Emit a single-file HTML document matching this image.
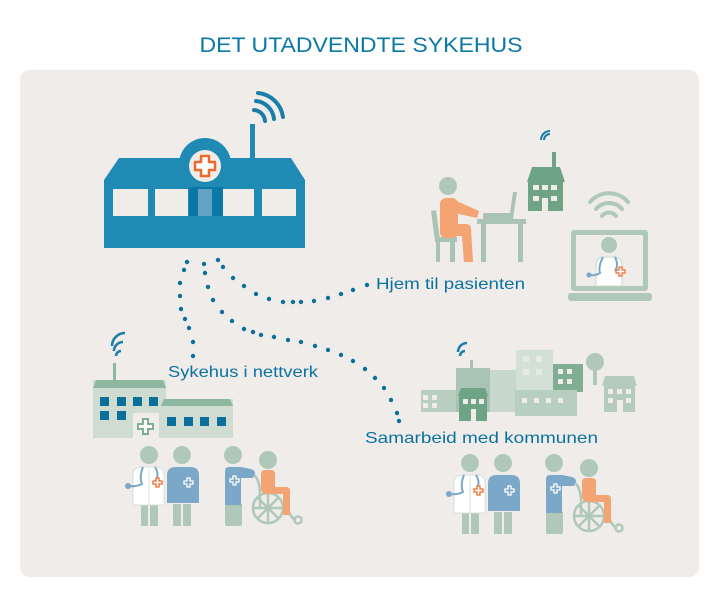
<!DOCTYPE html>
<html><head><meta charset="utf-8"><style>
html,body{margin:0;padding:0;background:#fff;}
svg{display:block;}
text{font-family:"Liberation Sans",sans-serif;}
</style></head><body>
<svg width="719" height="596" viewBox="0 0 719 596" xmlns="http://www.w3.org/2000/svg">
<rect x="0" y="0" width="719" height="596" fill="#fff"/>
<text x="361" y="52" text-anchor="middle" font-size="21" fill="#0b78a6" textLength="323" lengthAdjust="spacingAndGlyphs">DET UTADVENDTE SYKEHUS</text>
<rect x="20" y="70" width="679" height="507" rx="10" fill="#efecea"/>

<!-- main hospital -->
<g>
<circle cx="205" cy="164" r="26" fill="#1f8bb5"/>
<polygon points="119,158 291,158 305,180 305,248 104,248 104,180" fill="#1f8bb5"/>
<rect x="250" y="124" width="5" height="36" fill="#1f8bb5"/>
<g fill="none" stroke="#1a7ea8" stroke-width="4" stroke-linecap="round">
<path d="M254,110 A12,12 0 0 1 265,121"/>
<path d="M256,101 A20,20 0 0 1 274,119"/>
<path d="M258,93 A28,28 0 0 1 283,117"/>
</g>
<circle cx="205" cy="166" r="16" fill="#f0ece8"/>
<path d="M201,156h8v6h6v8h-6v6h-8v-6h-6v-8h6z" fill="#fff" stroke="#ec6a2c" stroke-width="2.5" stroke-linejoin="round"/>
<g fill="#f0ece8">
<rect x="113" y="189" width="35" height="27"/>
<rect x="155" y="189" width="33" height="27"/>
<rect x="223" y="189" width="31" height="27"/>
<rect x="262" y="189" width="34" height="27"/>
</g>
<rect x="189" y="187" width="34" height="29" fill="#0a78a6"/>
<rect x="198" y="189" width="14" height="27" fill="#62a2c3"/>
</g>

<!-- dots -->
<g fill="#0a6f9a">
<circle cx="187" cy="262" r="2.2"/><circle cx="184" cy="270" r="2.2"/><circle cx="180" cy="283" r="2.2"/><circle cx="180" cy="296" r="2.2"/><circle cx="181" cy="309" r="2.2"/><circle cx="185" cy="319" r="2.2"/><circle cx="189" cy="328" r="2.2"/><circle cx="193" cy="342" r="2.2"/><circle cx="193" cy="356" r="2.2"/>
<circle cx="204" cy="264" r="2.2"/><circle cx="205" cy="273" r="2.2"/><circle cx="208" cy="287" r="2.2"/><circle cx="213" cy="300" r="2.2"/><circle cx="222" cy="312" r="2.2"/><circle cx="232" cy="321" r="2.2"/><circle cx="244" cy="329" r="2.2"/><circle cx="253" cy="332" r="2.2"/><circle cx="261" cy="335" r="2.2"/><circle cx="274" cy="337" r="2.2"/><circle cx="288" cy="340" r="2.2"/><circle cx="301" cy="342" r="2.2"/><circle cx="315" cy="346" r="2.2"/><circle cx="328" cy="350" r="2.2"/><circle cx="341" cy="355" r="2.2"/><circle cx="353" cy="361" r="2.2"/><circle cx="365" cy="369" r="2.2"/><circle cx="375" cy="378" r="2.2"/><circle cx="384" cy="388" r="2.2"/><circle cx="391" cy="400" r="2.2"/><circle cx="397" cy="413" r="2.2"/><circle cx="399" cy="421" r="2.2"/>
<circle cx="218" cy="260" r="2.2"/><circle cx="223" cy="267" r="2.2"/><circle cx="233" cy="278" r="2.2"/><circle cx="244" cy="286" r="2.2"/><circle cx="256" cy="294" r="2.2"/><circle cx="269" cy="299" r="2.2"/><circle cx="283" cy="302" r="2.2"/><circle cx="293" cy="302" r="2.2"/><circle cx="301" cy="302" r="2.2"/><circle cx="314" cy="301" r="2.2"/><circle cx="328" cy="298" r="2.2"/><circle cx="341" cy="294" r="2.2"/><circle cx="353" cy="290" r="2.2"/><circle cx="367" cy="285" r="2.2"/>
</g>

<!-- labels -->
<g fill="#0b72a0" font-size="16">
<text x="376" y="289" textLength="149" lengthAdjust="spacingAndGlyphs">Hjem til pasienten</text>
<text x="168" y="377" textLength="150" lengthAdjust="spacingAndGlyphs">Sykehus i nettverk</text>
<text x="365" y="443" textLength="233" lengthAdjust="spacingAndGlyphs">Samarbeid med kommunen</text>
</g>

<!-- person at desk -->
<g>
<polygon points="431,211 436,210 440,240 435,241" fill="#a9c4b4"/>
<rect x="435" y="237" width="22" height="5" fill="#a9c4b4"/>
<rect x="450" y="240" width="5" height="22" fill="#a9c4b4"/>
<rect x="436" y="240" width="4" height="22" fill="#a9c4b4"/>
<circle cx="448" cy="186" r="9" fill="#b0c8b8"/>
<rect x="440" y="198" width="18" height="40" rx="6" fill="#f4a373"/>
<polygon points="452,199 479,211 477,218 450,212" fill="#f4a373"/>
<path d="M442,224 h24 q5,0 5,5 l2,33 h-9 l-2,-26 h-20 z" fill="#f4a373"/>
<rect x="477" y="219" width="49" height="5" fill="#a9c4b4"/>
<rect x="481" y="224" width="5" height="38" fill="#a9c4b4"/>
<rect x="518" y="224" width="5" height="38" fill="#a9c4b4"/>
<polygon points="483,213 510,213 513,192 517,192 513,219 483,219" fill="#a9c4b4"/>
</g>

<!-- small house -->
<g>
<path d="M544,140 a6,6 0 0 1 6,-6" fill="none" stroke="#1a7ea8" stroke-width="2"/>
<path d="M541,140 a9,9 0 0 1 9,-9" fill="none" stroke="#1a7ea8" stroke-width="2"/>
<rect x="552" y="152" width="4" height="16" fill="#6fa386"/>
<polygon points="532,167 560,167 565,182 527,182" fill="#6fa386"/>
<rect x="528" y="180" width="35" height="31" fill="#6fa386"/>
<g fill="#efecea"><rect x="533" y="185" width="6" height="5"/><rect x="542" y="185" width="6" height="5"/><rect x="551" y="185" width="6" height="5"/><rect x="533" y="196" width="6" height="5"/><rect x="551" y="196" width="6" height="5"/><rect x="542" y="198" width="6" height="13"/></g>
</g>

<!-- laptop -->
<g>
<g fill="none" stroke="#b0c8b8" stroke-width="4" stroke-linecap="round">
<path d="M602,216 a9,9 0 0 1 14,0"/>
<path d="M596,209 a17,17 0 0 1 26,0"/>
<path d="M590,202 a25,25 0 0 1 38,0"/>
</g>
<rect x="571" y="230" width="77" height="61" rx="3" fill="#b0c8b8"/>
<rect x="576" y="235" width="67" height="51" fill="#efecea"/>
<rect x="568" y="293" width="84" height="8" rx="3" fill="#b0c8b8"/>
<circle cx="609" cy="245" r="8" fill="#b0c8b8"/>
<path d="M596,286 v-20 q0,-9 8,-9 h10 q8,0 8,9 v20 z" fill="#fff" stroke="#c8d8cc" stroke-width="1"/>
<path d="M603,257 q-5,10 -3,16 q-5,3 -10,2" fill="none" stroke="#7ba8c8" stroke-width="2"/>
<circle cx="589" cy="275" r="2.5" fill="#7ba8c8"/>
<path d="M615,257 q4,8 0,14" fill="none" stroke="#7ba8c8" stroke-width="2"/>
<path d="M616,270h3v-3h3v3h3v3h-3v3h-3v-3h-3z" fill="#fff" stroke="#ec6a2c" stroke-width="1.2"/>
</g>

<!-- left hospital -->
<g>
<path d="M116,356 a5,5 0 0 1 5,-5 M114,351 a9,9 0 0 1 9,-9 M112,346 a13,13 0 0 1 13,-13" fill="none" stroke="#1a7ea8" stroke-width="2.5"/>
<rect x="113" y="363" width="3" height="18" fill="#8db8a0"/>
<rect x="93" y="380" width="73" height="58" fill="#cfdcd2"/>
<polygon points="96,380 163,380 166,388 93,388" fill="#8db8a0"/>
<rect x="161" y="399" width="72" height="39" fill="#cfdcd2"/>
<polygon points="164,399 230,399 233,406 161,406" fill="#8db8a0"/>
<g fill="#0a6f9a">
<rect x="100" y="397" width="9" height="9"/><rect x="117" y="397" width="9" height="9"/><rect x="133" y="397" width="9" height="9"/><rect x="149" y="397" width="9" height="9"/>
<rect x="100" y="411" width="9" height="9"/><rect x="117" y="411" width="9" height="9"/>
<rect x="167" y="417" width="9" height="9"/><rect x="184" y="417" width="9" height="9"/><rect x="200" y="417" width="9" height="9"/><rect x="217" y="417" width="9" height="9"/>
</g>
<rect x="133" y="413" width="26" height="25" fill="#efecea"/>
<path d="M143,419h5v5h5v5h-5v5h-5v-5h-5v-5h5z" fill="#fff" stroke="#7fae92" stroke-width="2"/>
</g>

<!-- town -->
<g>
<rect x="421" y="390" width="40" height="22" fill="#b8cfc0"/>
<rect x="456" y="368" width="34" height="44" fill="#a9c4b4"/>
<rect x="470" y="360" width="3" height="10" fill="#a9c4b4"/>
<path d="M460,356 a5,5 0 0 1 5,-5 M458,352 a9,9 0 0 1 9,-9" fill="none" stroke="#1a7ea8" stroke-width="2.5"/>
<rect x="490" y="370" width="28" height="42" fill="#c8d8cc"/>
<rect x="516" y="350" width="37" height="62" fill="#d3e0d6"/>
<rect x="553" y="364" width="30" height="28" fill="#7fae92"/>
<rect x="515" y="390" width="62" height="26" fill="#b8cfc0"/>
<polygon points="461,388 485,388 488,396 458,396" fill="#6fa386"/>
<rect x="459" y="395" width="28" height="26" fill="#6fa386"/>
<g fill="#efecea">
<rect x="463" y="399" width="5" height="5"/><rect x="471" y="399" width="5" height="5"/><rect x="479" y="399" width="5" height="5"/><rect x="471" y="409" width="5" height="12"/>
<rect x="423" y="395" width="5" height="5"/><rect x="432" y="395" width="5" height="5"/><rect x="423" y="403" width="5" height="5"/><rect x="432" y="403" width="5" height="5"/>
<rect x="523" y="356" width="6" height="6" opacity=".7"/><rect x="536" y="356" width="6" height="6" opacity=".7"/><rect x="523" y="369" width="6" height="6" opacity=".7"/><rect x="536" y="369" width="6" height="6" opacity=".7"/>
<rect x="558" y="369" width="5" height="5"/><rect x="567" y="369" width="5" height="5"/><rect x="558" y="379" width="5" height="5"/><rect x="567" y="379" width="5" height="5"/>
<rect x="522" y="398" width="5" height="5"/><rect x="534" y="398" width="5" height="5"/><rect x="546" y="398" width="5" height="5"/><rect x="558" y="398" width="5" height="5"/>
</g>
<circle cx="595" cy="362" r="9" fill="#b0c8b8"/>
<rect x="593" y="368" width="4" height="17" fill="#b0c8b8"/>
<polygon points="605,376 634,376 637,386 602,386" fill="#b5ccbd"/>
<rect x="604" y="385" width="31" height="27" fill="#b5ccbd"/>
<g fill="#efecea"><rect x="608" y="389" width="5" height="5"/><rect x="617" y="389" width="5" height="5"/><rect x="626" y="389" width="5" height="5"/><rect x="608" y="398" width="5" height="5"/><rect x="626" y="398" width="5" height="5"/><rect x="617" y="400" width="6" height="12"/></g>
</g>

<!-- people group -->
<defs>
<g id="people">
<circle cx="149" cy="455" r="9" fill="#b0c8b8"/>
<rect x="141" y="504" width="7" height="22" fill="#b0c8b8"/>
<rect x="150" y="504" width="8" height="22" fill="#b0c8b8"/>
<path d="M133,505 v-30 q0,-8 9,-8 h14 q8,0 8,8 v30 z" fill="#fff" stroke="#d6e0da" stroke-width="1"/>
<line x1="149" y1="468" x2="149" y2="505" stroke="#d6e0da" stroke-width="1"/>
<path d="M143,467 q-4,10 -1,17 q-6,3 -14,2" fill="none" stroke="#7ba8c8" stroke-width="2"/>
<circle cx="128" cy="486" r="3" fill="#7ba8c8"/>
<path d="M155,467 q5,8 0,15" fill="none" stroke="#7ba8c8" stroke-width="2"/>
<path d="M153,481h3v-3h3v3h3v3h-3v3h-3v-3h-3z" fill="#fff" stroke="#ec6a2c" stroke-width="1.3"/>
<circle cx="182" cy="455" r="9" fill="#b0c8b8"/>
<rect x="173" y="504" width="8" height="22" fill="#b0c8b8"/>
<rect x="183" y="504" width="8" height="22" fill="#b0c8b8"/>
<path d="M167,503 v-28 q0,-8 9,-8 h14 q9,0 9,8 v28 z" fill="#7ba8c8"/>
<path d="M184,481h3v-3h3v3h3v3h-3v3h-3v-3h-3z" fill="none" stroke="#fff" stroke-width="1.3"/>
<circle cx="233" cy="455" r="9" fill="#b0c8b8"/>
<rect x="225" y="503" width="17" height="23" rx="2" fill="#b0c8b8"/>
<path d="M225,505 v-34 q0,-4 4,-4 h12 l10,2 q4,1 4,5 q0,4 -4,4 h-10 v27 z" fill="#7ba8c8"/>
<path d="M230,479h3v-3h3v3h3v3h-3v3h-3v-3h-3z" fill="none" stroke="#fff" stroke-width="1.3"/>
<g fill="none" stroke="#b0c8b8" stroke-width="2.5">
<circle cx="268" cy="508" r="15"/>
<path d="M268,493v30M253,508h30M257,497l22,22M279,497l-22,22"/>
<path d="M254,475 q6,5 6,20 v13"/>
<path d="M288,510 q3,8 8,10"/>
<circle cx="298" cy="520" r="3.5"/>
</g>
<circle cx="268" cy="460" r="9" fill="#b0c8b8"/>
<path d="M261,474 q0,-4 4,-4 h6 q4,0 4,4 v13 h11 q4,0 4,4 v24 h-7 v-21 h-16 q-6,0 -6,-6 z" fill="#f4a373"/>
</g>
</defs>
<use href="#people"/>
<use href="#people" transform="translate(321,8)"/>
</svg>
</body></html>
